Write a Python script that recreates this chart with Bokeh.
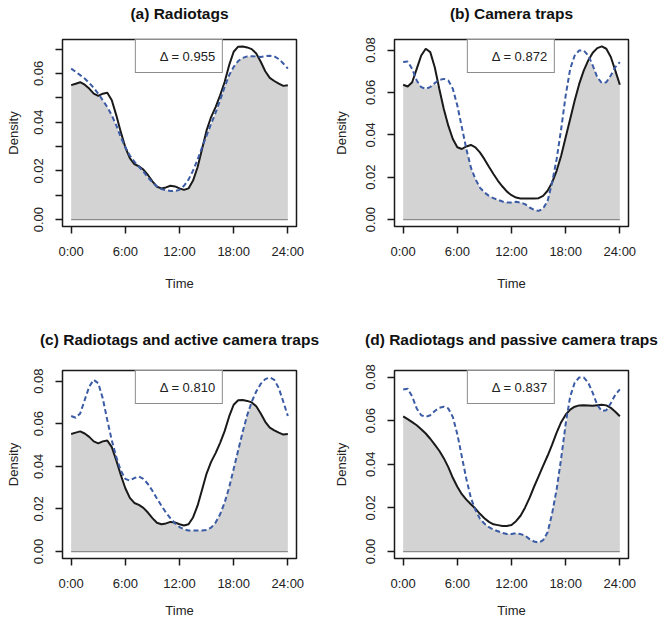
from bokeh.plotting import figure
from bokeh.layouts import gridplot
from bokeh.models import Range1d, FixedTicker, Legend, LegendItem, LinearAxis
from bokeh.embed import file_html
from bokeh.resources import INLINE

# ---------------- data ----------------
hours = [0.0, 0.5, 1.0, 1.5, 2.0, 2.5, 3.0, 3.5, 4.0, 4.5, 5.0, 5.5, 6.0, 6.5,
         7.0, 7.5, 8.0, 8.5, 9.0, 9.5, 10.0, 10.5, 11.0, 11.5, 12.0, 12.5,
         13.0, 13.5, 14.0, 14.5, 15.0, 15.5, 16.0, 16.5, 17.0, 17.5, 18.0,
         18.5, 19.0, 19.5, 20.0, 20.5, 21.0, 21.5, 22.0, 22.5, 23.0, 23.5, 24.0]

radiotags_1 = [0.0552, 0.0558, 0.0564, 0.0554, 0.0538, 0.0517, 0.0508, 0.0517,
               0.0521, 0.0490, 0.0428, 0.0359, 0.0297, 0.0252, 0.0228, 0.0219,
               0.0205, 0.0183, 0.0157, 0.0135, 0.0128, 0.0132, 0.0139, 0.0136,
               0.0128, 0.0122, 0.0128, 0.0160, 0.0215, 0.0290, 0.0366, 0.0421,
               0.0462, 0.0510, 0.0565, 0.0634, 0.0689, 0.0710, 0.0711, 0.0707,
               0.0700, 0.0682, 0.0648, 0.0609, 0.0582, 0.0569, 0.0558, 0.0549,
               0.0552]

radiotags_2 = [0.0620, 0.0607, 0.0593, 0.0579, 0.0561, 0.0541, 0.0517, 0.0490,
               0.0462, 0.0428, 0.0387, 0.0338, 0.0297, 0.0263, 0.0238, 0.0217,
               0.0197, 0.0173, 0.0153, 0.0136, 0.0125, 0.0121, 0.0117, 0.0117,
               0.0122, 0.0139, 0.0164, 0.0201, 0.0246, 0.0297, 0.0345, 0.0393,
               0.0439, 0.0490, 0.0545, 0.0593, 0.0627, 0.0651, 0.0664, 0.0670,
               0.0671, 0.0670, 0.0668, 0.0671, 0.0673, 0.0670, 0.0659, 0.0641,
               0.0620]

camera_active = [0.0636, 0.0628, 0.0648, 0.0711, 0.0774, 0.0806, 0.0790, 0.0719,
                 0.0617, 0.0522, 0.0443, 0.0380, 0.0341, 0.0333, 0.0345, 0.0352,
                 0.0341, 0.0317, 0.0285, 0.0249, 0.0215, 0.0183, 0.0156, 0.0132,
                 0.0115, 0.0104, 0.0099, 0.0099, 0.0099, 0.0099, 0.0101, 0.0112,
                 0.0136, 0.0175, 0.0230, 0.0301, 0.0388, 0.0475, 0.0562, 0.0640,
                 0.0703, 0.0751, 0.0787, 0.0809, 0.0817, 0.0806, 0.0767, 0.0703,
                 0.0636]

camera_passive = [0.0743, 0.0746, 0.0711, 0.0656, 0.0625, 0.0617, 0.0625, 0.0644,
                  0.0659, 0.0664, 0.0656, 0.0617, 0.0538, 0.0435, 0.0333, 0.0246,
                  0.0191, 0.0151, 0.0128, 0.0112, 0.0101, 0.0093, 0.0085, 0.0080,
                  0.0080, 0.0084, 0.0080, 0.0073, 0.0057, 0.0046, 0.0041, 0.0052,
                  0.0088, 0.0175, 0.0285, 0.0427, 0.0585, 0.0711, 0.0774, 0.0798,
                  0.0798, 0.0774, 0.0727, 0.0672, 0.0644, 0.0648, 0.0680, 0.0719,
                  0.0743]

titles = ["(a) Radiotags", "(b) Camera traps",
          "(c) Radiotags and active camera traps",
          "(d) Radiotags and passive camera traps"]
deltas = [0.955, 0.872, 0.810, 0.837]

x_ticks = [0, 6, 12, 18, 24]
x_tick_labels = ["0:00", "6:00", "12:00", "18:00", "24:00"]
y_ticks_a = [0.00, 0.01, 0.02, 0.03, 0.04, 0.05, 0.06, 0.07]
y_tick_labels_a = ["0.00", "", "0.02", "", "0.04", "", "0.06", ""]
y_ticks_bcd = [0.00, 0.02, 0.04, 0.06, 0.08]
y_tick_labels_bcd = ["0.00", "0.02", "0.04", "0.06", "0.08"]

# ---------------- styling ----------------
FONT = "Liberation Sans"
TXT = "#222222"
FILL = "#d3d3d3"
SOLID = "#1a1a1a"
DASHED = "#3b5ba5"

pairs = [(radiotags_1, radiotags_2), (camera_active, camera_passive),
         (radiotags_1, camera_active), (radiotags_2, camera_passive)]
yticks = [(y_ticks_a, y_tick_labels_a), (y_ticks_bcd, y_tick_labels_bcd),
          (y_ticks_bcd, y_tick_labels_bcd), (y_ticks_bcd, y_tick_labels_bcd)]

# width, height, left, right, top, bottom, title standoff, ylabel standoff, xlabel standoff
geom = [(330, 310, 62, 34, 39, 84, 18, 11, 14),
        (330, 310, 64, 32, 39, 84, 18, 15, 14),
        (330, 310, 62, 34, 60, 62, 23, 11, 9),
        (330, 310, 64, 32, 60, 62, 23, 15, 9)]


def style_axis(ax):
    ax.axis_line_color = None
    ax.major_tick_line_color = SOLID
    ax.major_tick_line_width = 1.5
    ax.major_tick_out = 7
    ax.major_tick_in = 0
    ax.minor_tick_line_color = None
    ax.major_label_text_font = FONT
    ax.major_label_text_font_size = "13px"
    ax.major_label_text_color = TXT
    ax.axis_label_text_font = FONT
    ax.axis_label_text_font_size = "13px"
    ax.axis_label_text_font_style = "normal"
    ax.axis_label_text_color = TXT


def make_panel(i):
    s1, s2 = pairs[i]
    w, h, bl, br, bt, bb, tst, yst, xst = geom[i]
    top = max(max(s1), max(s2))
    p = figure(width=w, height=h, output_backend="svg", toolbar_location=None,
               x_range=Range1d(-0.04 * 24, 24 * 1.04),
               y_range=Range1d(-0.04 * top, 1.04 * top),
               min_border_left=bl, min_border_right=br,
               min_border_top=bt, min_border_bottom=bb,
               title_location=None)
    p.background_fill_color = "white"
    p.border_fill_color = "white"
    p.outline_line_color = SOLID
    p.outline_line_width = 1.5
    p.grid.visible = False

    # panel title: label of a tick-less axis above the frame
    head = LinearAxis(ticker=FixedTicker(ticks=[]), axis_line_color=None,
                      major_tick_line_color=None, minor_tick_line_color=None,
                      major_tick_out=0, major_tick_in=0,
                      minor_tick_out=0, minor_tick_in=0, major_label_standoff=0,
                      axis_label=titles[i], axis_label_standoff=tst,
                      axis_label_text_font=FONT, axis_label_text_font_size="15.5px",
                      axis_label_text_font_style="bold",
                      axis_label_text_color="#111111")
    p.add_layout(head, "above")

    overlap = [min(a, b) for a, b in zip(s1, s2)]
    p.varea(x=hours, y1=[0.0] * len(hours), y2=overlap, fill_color=FILL)
    p.line(x=[hours[0], hours[-1]], y=[0, 0], line_color="#8a8a8a", line_width=1.2)
    p.line(x=hours, y=s1, line_color=SOLID, line_width=2)
    p.line(x=hours, y=s2, line_color=DASHED, line_width=2, line_dash="5 3")

    xa = p.below[0]
    style_axis(xa)
    xa.ticker = FixedTicker(ticks=x_ticks)
    xa.major_label_overrides = dict(zip(x_ticks, x_tick_labels))
    xa.major_label_standoff = 10
    xa.axis_label = "Time"
    xa.axis_label_standoff = xst

    yt, yl = yticks[i]
    ya = p.left[0]
    style_axis(ya)
    ya.ticker = FixedTicker(ticks=yt)
    ya.major_label_overrides = dict(zip(yt, yl))
    ya.major_label_orientation = "vertical"
    ya.major_label_standoff = 12
    ya.axis_label = "Density"
    ya.axis_label_standoff = yst

    dummy = p.line(x=[], y=[], line_alpha=0)
    leg = Legend(items=[LegendItem(label="\u0394 = %.3f" % deltas[i], renderers=[dummy])],
                 location="top_center", margin=0, padding=7, spacing=0,
                 glyph_width=12, glyph_height=18, label_height=18,
                 label_standoff=5, label_text_font=FONT,
                 label_text_font_size="13px", label_text_color=TXT,
                 border_line_color=SOLID, border_line_width=1.5,
                 background_fill_color="white", background_fill_alpha=1.0)
    p.add_layout(leg)
    return p


panels = [make_panel(i) for i in range(4)]
grid = gridplot([[panels[0], panels[1]], [panels[2], panels[3]]],
                toolbar_location=None)

open("out.html", "w").write(file_html(grid, INLINE))
